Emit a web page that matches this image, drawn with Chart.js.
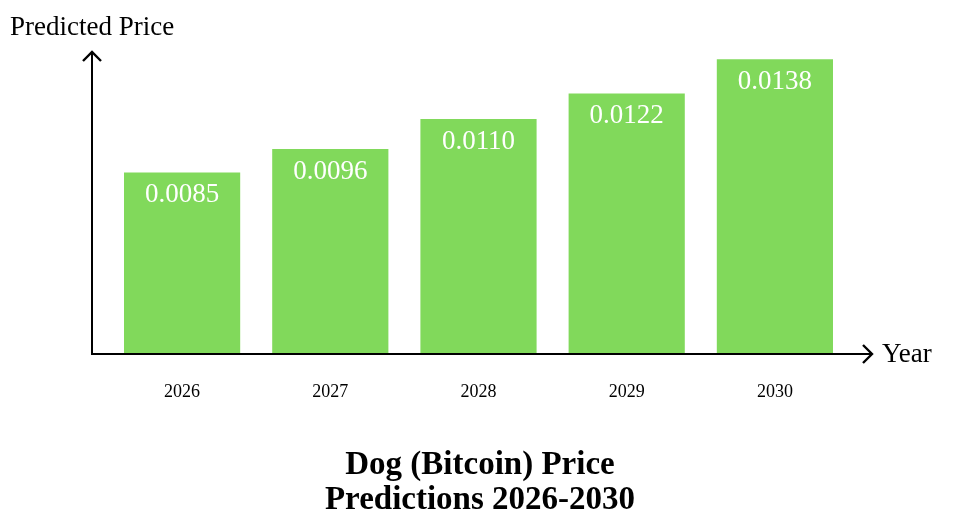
<!DOCTYPE html>
<html>
<head>
<meta charset="utf-8">
<script src="https://cdn.jsdelivr.net/npm/chart.js@4.4.1/dist/chart.umd.min.js"></script>
<style>
  html, body { margin: 0; padding: 0; background: #fff; }
  #wrap { width: 976px; height: 521px; position: relative; }
</style>
</head>
<body>
<div id="wrap"><canvas id="myChart" width="976" height="521"></canvas></div>
<script>
// data
const years = ['2026', '2027', '2028', '2029', '2030'];
const prices = [0.0085, 0.0096, 0.0110, 0.0122, 0.0138];
const valueLabels = ['0.0085', '0.0096', '0.0110', '0.0122', '0.0138'];
const titleLines = ['Dog (Bitcoin) Price', 'Predictions 2026-2030'];
const yAxisTitle = 'Predicted Price';
const xAxisTitle = 'Year';

const serif = '"Liberation Serif", "DejaVu Serif", serif';

// arrows, labels and title drawn on top of the bars
const decorations = {
  id: 'decorations',
  afterDraw(chart) {
    const ctx = chart.ctx;
    const x = chart.scales.x;
    const y = chart.scales.y;
    const base = y.getPixelForValue(0);
    const ox = 92;
    ctx.save();

    // value labels inside the bars
    ctx.fillStyle = '#ffffff';
    ctx.font = '27px ' + serif;
    ctx.textAlign = 'center';
    ctx.textBaseline = 'alphabetic';
    chart.getDatasetMeta(0).data.forEach((bar, i) => {
      ctx.fillText(valueLabels[i], bar.x, bar.y + 30);
    });

    // axes with arrowheads
    ctx.strokeStyle = '#000';
    ctx.lineWidth = 2;
    ctx.beginPath();
    ctx.moveTo(ox, base);
    ctx.lineTo(ox, 52);
    ctx.moveTo(ox - 1, base);
    ctx.lineTo(872, base);
    ctx.stroke();
    ctx.lineWidth = 2.4;
    ctx.beginPath();
    ctx.moveTo(ox - 9, 61);
    ctx.lineTo(ox, 52);
    ctx.lineTo(ox + 9, 61);
    ctx.moveTo(863, base - 9);
    ctx.lineTo(872, base);
    ctx.lineTo(863, base + 9);
    ctx.stroke();

    // axis titles
    ctx.fillStyle = '#000';
    ctx.font = '27px ' + serif;
    ctx.textAlign = 'left';
    ctx.fillText(yAxisTitle, 10, 35);
    ctx.fillText(xAxisTitle, 882, 362);

    // category labels
    ctx.font = '18px ' + serif;
    ctx.textAlign = 'center';
    years.forEach((yr, i) => {
      ctx.fillText(yr, x.getPixelForValue(i), 397);
    });

    // chart title
    ctx.font = 'bold 33px ' + serif;
    ctx.fillText(titleLines[0], 480, 474);
    ctx.fillText(titleLines[1], 480, 509);
    ctx.restore();
  }
};

const ctx = document.getElementById('myChart').getContext('2d');
new Chart(ctx, {
  type: 'bar',
  data: {
    labels: years,
    datasets: [{
      data: prices,
      backgroundColor: '#81d95b',
      borderWidth: 0,
      barPercentage: 0.784,
      categoryPercentage: 1
    }]
  },
  options: {
    responsive: false,
    animation: false,
    layout: { padding: { left: 108, right: 127, top: 55, bottom: 167 } },
    plugins: {
      legend: { display: false },
      tooltip: { enabled: false },
      title: { display: false }
    },
    scales: {
      x: { display: false },
      y: { display: false, min: 0, max: 0.014 }
    }
  },
  plugins: [decorations]
});
</script>
</body>
</html>
